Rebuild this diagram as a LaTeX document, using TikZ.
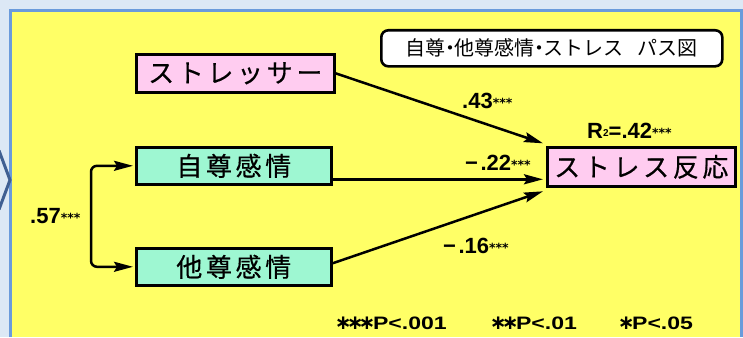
\documentclass[tikz,border=0pt]{standalone}
\usepackage{fontspec}
\setmainfont{Liberation Sans}
\newfontfamily\jp{Noto Sans CJK JP}
\newfontfamily\jpls[LetterSpace=14,FakeBold=0.4]{Noto Sans CJK JP}
\newfontfamily\djv{DejaVu Sans}
\usetikzlibrary{arrows.meta}
\definecolor{bgblue}{HTML}{DCE8F5}
\definecolor{panelblue}{HTML}{6A9BDB}
\definecolor{chev}{HTML}{3F5F92}
\definecolor{ylw}{HTML}{FFFF66}
\definecolor{pinkfill}{HTML}{FFCCF0}
\definecolor{tealfill}{HTML}{9EF7D2}
\newcommand\sig[1]{\raisebox{0.5pt}{\fontsize{12.5}{12}\selectfont\djv\bfseries #1}}
\newcommand\fast{{\fontsize{20}{20}\selectfont\djv\bfseries\kern-2.4pt∗\kern-2.4pt}}
\newcommand\mns{−\kern2.5pt}
\newcommand\jdot{\kern-5.5pt・\kern-5.5pt}
\tikzset{
  box/.style={draw=black, line width=2.6pt, inner sep=0pt, anchor=north west,
    font=\fontsize{26}{26}\selectfont\jpls},
  pinkbox/.style={box, fill=pinkfill},
  tealbox/.style={box, fill=tealfill},
  titlebox/.style={draw=black, fill=white, line width=2.6pt, rounded corners=7pt,
    inner sep=0pt, anchor=north west, font=\fontsize{20}{20}\selectfont\jp},
  arr/.style={line width=2.5pt, -{Stealth[length=19pt,width=10pt,inset=3pt]}},
  corr/.style={line width=2.5pt, {Stealth[length=19pt,width=10pt,inset=3pt]}-{Stealth[length=19pt,width=10pt,inset=3pt]}, rounded corners=6pt},
  lbl/.style={inner sep=0pt, anchor=base west, font=\fontsize{22}{22}\selectfont\bfseries},
  foot/.style={inner sep=0pt, anchor=base west, font=\fontsize{18}{18}\selectfont\bfseries}
}
\begin{document}
\begin{tikzpicture}[x=1pt,y=-1pt]
\useasboundingbox (0,0) rectangle (743,337);
\fill[bgblue] (0,0) rectangle (743,337);
\fill[ylw] (12,12) rectangle (741,337);
\draw[panelblue, line width=3pt] (10.5,337) -- (10.5,10.5) -- (741.5,10.5) -- (741.5,337);
\draw[chev, line width=3pt] (-1,150.5) -- (10,180) -- (-1,209.5);

\node[titlebox, minimum width=341pt, minimum height=36pt] (title) at (380,29) {自尊\jdot 他尊感情\jdot ストレス\hspace{14pt}パス図};

\node[pinkbox, minimum width=198pt, minimum height=38pt] (s) at (135,53) {ストレッサー\hspace{-3.6pt}};
\node[tealbox, minimum width=195pt, minimum height=37pt] (j) at (135,146) {自尊感情\hspace{-3.6pt}};
\node[tealbox, minimum width=195pt, minimum height=37pt] (t) at (135,247) {他尊感情\hspace{-3.6pt}};
\node[pinkbox, minimum width=188pt, minimum height=39pt] (r) at (546,146) {ストレス反応\hspace{-3.6pt}};

\draw[arr] (s.east) -- ([xshift=-3pt,yshift=23.5pt]r.west);
\draw[arr] ([yshift=-13.5pt]j.east) -- ([xshift=-3pt,yshift=-12.5pt]r.west);
\draw[arr] ([yshift=3.5pt]t.east) -- ([xshift=-3pt,yshift=-24.5pt]r.west);
\draw[corr] ([xshift=-2pt]j.west) -- ++(-42,0) |- ([xshift=-2pt]t.west);

\node[lbl] (l43) at (462,108) {.43\sig{***}};
\node[lbl] (l22) at (465,170) {\mns.22\sig{***}};
\node[lbl] (l16) at (443,253) {\mns.16\sig{***}};
\node[lbl] (l57) at (30,223) {.57\sig{***}};
\node[lbl] (rsq) at (587,138) {R\raisebox{2pt}{\fontsize{10}{10}\selectfont 2}=.42\sig{***}};

\node[foot] (f1) at (337,329) {\fast\fast\fast\scalebox{1.28}[1]{P<.001}};
\node[foot] (f2) at (492,329) {\fast\fast\scalebox{1.28}[1]{P<.01}};
\node[foot] (f3) at (620,329) {\fast\scalebox{1.28}[1]{P<.05}};
\end{tikzpicture}
\end{document}
